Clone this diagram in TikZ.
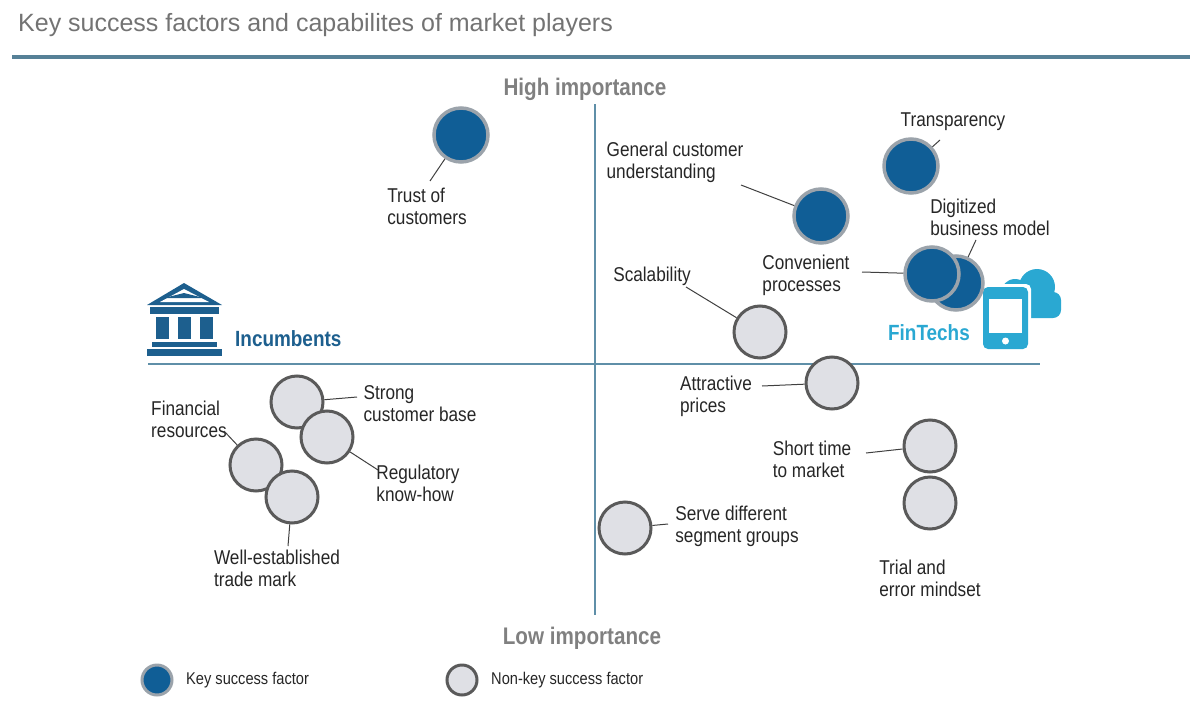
\documentclass[tikz,border=0pt]{standalone}
\usepackage{fontspec}
\setmainfont{Liberation Sans}[FakeStretch=0.86]
\newfontfamily\titlefont{Liberation Sans}
\begin{document}
\definecolor{kblue}{HTML}{105E96}
\definecolor{kring}{HTML}{9BA3AB}
\definecolor{lfill}{HTML}{DFE0E5}
\definecolor{lring}{HTML}{5A5A5A}
\definecolor{axis}{HTML}{5F8FA8}
\definecolor{bank}{HTML}{1D5F8E}
\definecolor{fin}{HTML}{2AA8D2}
\begin{tikzpicture}[x=1pt,y=-1pt,
 key/.style={circle,minimum size=54pt,inner sep=0pt,fill=kblue,draw=kring,line width=3.5pt},
 non/.style={circle,minimum size=52pt,inner sep=0pt,fill=lfill,draw=lring,line width=3pt},
 lbl/.style={font=\fontsize{20}{22}\selectfont,align=left,text=black!85,inner sep=0pt},
 lead/.style={draw=black!75,line width=1pt},
 imp/.style={font=\fontsize{24}{26}\selectfont\bfseries,text=black!50}]
\useasboundingbox (0,0) rectangle (1200,707);
% title
\node[anchor=west,font=\titlefont\fontsize{25}{27}\selectfont,text=black!55,inner sep=0pt] (title) at (18,25) {Key success factors and capabilites of market players};
\draw[line width=4pt,color=axis!90!black] (12,57) -- (1190,57);
% axes
\coordinate (vt) at (595,104); \coordinate (vb) at (595,615);
\coordinate (hl) at (148,364); \coordinate (hr) at (1040,364);
\draw[axis,line width=1.2pt] (vt) -- (vb);
\draw[axis,line width=1.2pt] (hl) -- (hr);
\node[imp] (high) at (585,89) {High importance};
\node[imp] (low) at (582,638) {Low importance};
% bank icon
\fill[bank] (147,305) -- (184,283) -- (222,305) -- cycle;
\fill[white] (160,302) -- (184,289) -- (209,302) -- cycle;
\fill[bank] (164,298) -- (184,293) -- (204,298) -- cycle;
\fill[bank] (150,307) rectangle (219,314);
\fill[bank] (156,317) rectangle (169,339);
\fill[bank] (178,317) rectangle (191,339);
\fill[bank] (200,317) rectangle (213,339);
\fill[bank] (152,342) rectangle (217,347);
\fill[bank] (147,349) rectangle (222,356);
\node[anchor=west,font=\fontsize{22}{24}\selectfont\bfseries,text=bank,inner sep=0pt] (inc) at (235,339) {Incumbents};
% fintech icon
\fill[fin] (1015,293) circle (14) (1037,287) circle (18) (1049,303) circle (12);
\fill[fin,rounded corners=8] (1002,292) rectangle (1061,318);
\fill[white,rounded corners=5] (980,284) rectangle (1031,352);
\fill[fin,rounded corners=5] (983,287) rectangle (1028,349);
\fill[white] (989,299) rectangle (1022,333);
\fill[white] (1005.5,341) circle (3.5);
\node[anchor=east,font=\fontsize{22}{24}\selectfont\bfseries,text=fin,inner sep=0pt] (fint) at (970,333) {FinTechs};
% key factors
\node[key] (trust) at (461,135) {};
\node[key] (gcu) at (821,216) {};
\node[key] (transp) at (911,166) {};
\node[key] (digi) at (956,283) {};
\node[key] (conv) at (932,274) {};
% non-key
\node[non] (scal) at (760,332) {};
\node[non] (attr) at (832,383) {};
\node[non] (short) at (930,446) {};
\node[non] (trial) at (930,503) {};
\node[non] (serve) at (625,528) {};
\node[non] (strong) at (297,402) {};
\node[non] (reg) at (327,437) {};
\node[non] (finr) at (256,465) {};
\node[non] (well) at (292,497) {};
% labels
\node[lbl] (Ltrust) at (427,206) {Trust of\\customers};
\node[lbl] (Lgcu) at (675,162) {General customer\\understanding};
\node[lbl] (Ltransp) at (953,122) {Transparency};
\node[lbl] (Ldigi) at (990,217) {Digitized\\business model};
\node[lbl] (Lconv) at (806,275) {Convenient\\processes};
\node[lbl] (Lscal) at (652,276) {Scalability};
\node[lbl] (Lattr) at (716,396) {Attractive\\prices};
\node[lbl] (Lshort) at (812,459) {Short time\\to market};
\node[lbl] (Ltrial) at (930,578) {Trial and\\error mindset};
\node[lbl] (Lserve) at (737,526) {Serve different\\segment groups};
\node[lbl] (Lstrong) at (420,404) {Strong\\customer base};
\node[lbl] (Lreg) at (418,483) {Regulatory\\know-how};
\node[lbl] (Lfin) at (189,419) {Financial\\resources};
\node[lbl] (Lwell) at (277,568) {Well-established\\trade mark};
% leaders
\coordinate (a1) at (430,181); \draw[lead] (a1) -- (trust);
\coordinate (a2) at (741,185); \draw[lead] (a2) -- (gcu);
\coordinate (a3) at (940,140); \draw[lead] (a3) -- (transp);
\coordinate (a4) at (976,240); \draw[lead] (a4) -- (digi);
\coordinate (a5) at (862,272); \draw[lead] (a5) -- (conv);
\coordinate (a6) at (686,287); \draw[lead] (a6) -- (scal);
\coordinate (a7) at (762,386); \draw[lead] (a7) -- (attr);
\coordinate (a8) at (866,453); \draw[lead] (a8) -- (short);
\coordinate (a10) at (668,524); \draw[lead] (a10) -- (serve);
\coordinate (a11) at (357,397); \draw[lead] (a11) -- (strong);
\coordinate (a12) at (378,470); \draw[lead] (a12) -- (reg);
\coordinate (a13) at (224,431); \draw[lead] (a13) -- (finr);
\coordinate (a14) at (288,546); \draw[lead] (a14) -- (well);
% legend
\node[key,minimum size=30pt,line width=3pt] (lk) at (157,680) {};
\node[lbl,anchor=west,font=\fontsize{17}{19}\selectfont] (lkt) at (186,680) {Key success factor};
\node[non,minimum size=30pt,line width=3pt] (ln) at (462,680) {};
\node[lbl,anchor=west,font=\fontsize{17}{19}\selectfont] (lnt) at (491,680) {Non-key success factor};
\end{tikzpicture}
\end{document}
